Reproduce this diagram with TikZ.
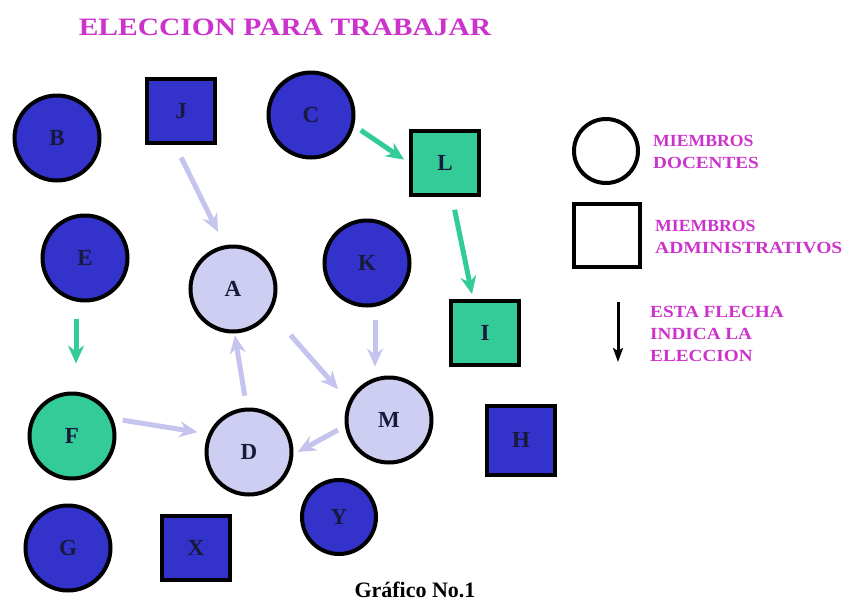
\documentclass[tikz,border=0pt]{standalone}
\usepackage{fontspec}
\setmainfont{Liberation Serif}
\usetikzlibrary{arrows.meta}
\definecolor{dblue}{RGB}{51,51,204}
\definecolor{mgreen}{RGB}{51,204,153}
\definecolor{lav}{RGB}{206,206,242}
\definecolor{lavarrow}{RGB}{196,196,238}
\definecolor{magtxt}{RGB}{204,51,204}
\definecolor{ink}{RGB}{25,25,60}
\begin{document}
\begin{tikzpicture}[x=1pt,y=-1pt,
  lbl/.style={font=\fontsize{23}{23}\selectfont\bfseries, text=ink},
  circ/.style={circle, draw=black, line width=4pt, minimum size=85pt, inner sep=0pt, lbl},
  sq/.style={rectangle, draw=black, line width=4pt, minimum width=68pt, minimum height=64pt, inner sep=0pt, lbl},
  blue/.style={fill=dblue},
  green/.style={fill=mgreen},
  light/.style={fill=lav},
  garrow/.style={draw=mgreen, line width=5pt, -{Stealth[length=18pt,width=16pt,inset=6pt]}},
  larrow/.style={draw=lavarrow, line width=5pt, -{Stealth[length=18pt,width=16pt,inset=6pt]}},
  legtxt/.style={font=\fontsize{17}{22}\selectfont\bfseries, text=magtxt, align=left, anchor=west, inner sep=0pt}
]
\fill[white] (0,0) rectangle (847,606);
\useasboundingbox (0,0) rectangle (847,606);

% title
\node[font=\fontsize{25}{25}\selectfont\bfseries, text=magtxt] (title) at (285,27) {\scalebox{1.18}[1]{ELECCION PARA TRABAJAR}};

% nodes
\node[circ,blue] (B) at (57,138) {B};
\node[sq,blue] (J) at (181,111) {J};
\node[circ,blue] (C) at (311,115) {C};
\node[sq,green] (L) at (445,163) {L};
\node[circ,blue] (E) at (85,258) {E};
\node[circ,light] (A) at (233,289) {A};
\node[circ,blue] (K) at (367,263) {K};
\node[sq,green] (I) at (485,333) {I};
\node[circ,green] (F) at (72,436) {F};
\node[circ,light] (D) at (249,452) {D};
\node[circ,light] (M) at (389,420) {M};
\node[sq,blue, minimum height=69pt] (H) at (521,440) {H};
\node[circ,blue] (G) at (68,548) {G};
\node[sq,blue] (X) at (196,548) {X};
\node[circ,blue, minimum size=74pt] (Y) at (339,517) {Y};

% connectors
\draw[larrow, shorten <=14pt, shorten >=15pt] ([xshift=-6pt]J.south) -- (A.101);
\draw[garrow, shorten <=8pt, shorten >=6pt] (C.-14) -- (L.west);
\draw[garrow, shorten <=13pt, shorten >=5pt] ([xshift=7pt]L.south) -- ([xshift=-12pt]I.north);
\draw[garrow, shorten <=16pt, shorten >=28pt] ([xshift=-9pt]E.south) -- ([xshift=4pt]F.north);
\draw[larrow, shorten <=10pt, shorten >=11pt] (F.23) -- (D.156);
\draw[larrow, shorten <=12pt, shorten >=2pt] (D.93) -- (A.272);
\draw[larrow, shorten <=30pt, shorten >=16pt] (A.-32) -- (M.155);
\draw[larrow, shorten <=12pt, shorten >=9pt] ([xshift=8pt]K.south) -- ([xshift=-14pt]M.north);
\draw[larrow, shorten <=8pt, shorten >=5pt] (M.188) -- (D.-3);

% legend
\node[circle, draw=black, line width=4pt, minimum size=64pt, inner sep=0pt] (legC) at (606,151) {};
\node[rectangle, draw=black, line width=4pt, minimum width=66pt, minimum height=63pt, inner sep=0pt] (legS) at (607,235) {};
\coordinate (la1) at (618,302);
\coordinate (la2) at (618,362);
\draw[black, line width=3pt, -{Stealth[length=14pt,width=10pt,inset=3pt]}] (la1) -- (la2);
\node[legtxt] (t1) at (653,152) {\scalebox{1.04}[1]{MIEMBROS}\\\scalebox{1.13}[1]{DOCENTES}};
\node[legtxt] (t2) at (655,237) {\scalebox{1.04}[1]{MIEMBROS}\\\scalebox{1.15}[1]{ADMINISTRATIVOS}};
\node[legtxt] (t3) at (650,334) {\scalebox{1.13}[1]{ESTA FLECHA}\\\scalebox{1.13}[1]{INDICA LA}\\\scalebox{1.13}[1]{ELECCION}};

% caption
\node[font=\fontsize{22}{22}\selectfont\bfseries, text=black] (cap) at (415,590) {Gráfico No.1};
\end{tikzpicture}
\end{document}
